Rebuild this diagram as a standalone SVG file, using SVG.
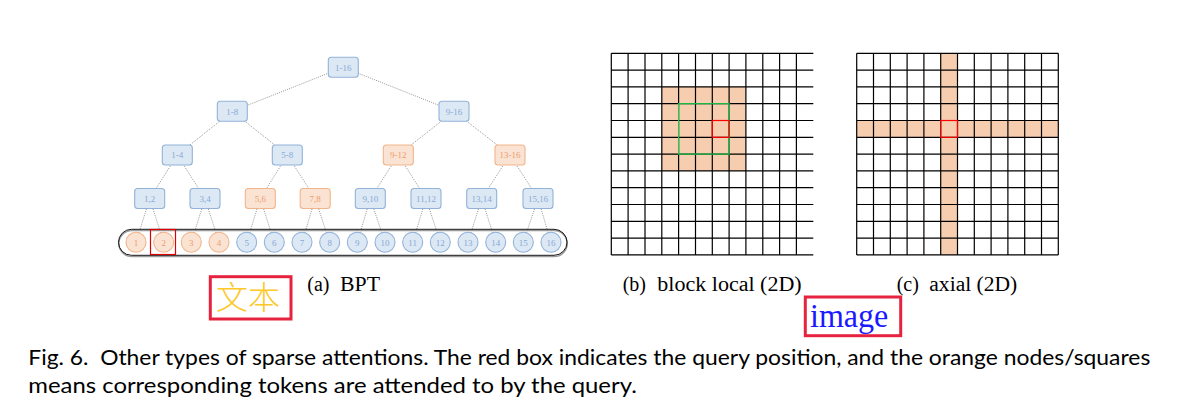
<svg xmlns="http://www.w3.org/2000/svg" width="1183" height="408" viewBox="0 0 1183 408">
<style>
.bn rect{fill:#dde8f5;stroke:#92b2d8;stroke-width:1.1}
.on rect{fill:#fbe3d3;stroke:#f1b58b;stroke-width:1.1}
.bn circle{fill:#dde8f5;stroke:#92b2d8;stroke-width:1.1}
.on circle{fill:#fbe3d3;stroke:#f1b58b;stroke-width:1.1}
.bn text{fill:#86aad4}
.on text{fill:#ec9c6c}
.t{font-family:"Liberation Serif",serif;font-size:9px;text-anchor:middle}
.edge{stroke:#777;stroke-width:0.8;stroke-dasharray:1 1.2;fill:none}
.grid{stroke:#000;stroke-width:1.2;fill:none}
.fill{fill:#f7cdaf}
.cap{font-family:"Liberation Serif",serif;font-size:20px;fill:#000}
.fig{font-family:Lato,"Noto Sans",sans-serif;font-size:22px;fill:#000}
</style>
<rect width="1183" height="408" fill="#fff"/>

<g id="connectors">
<line class="edge" x1="343.3" y1="67.3" x2="232.3" y2="111.3"/>
<line class="edge" x1="343.3" y1="67.3" x2="454" y2="111.3"/>
<line class="edge" x1="232.3" y1="111.3" x2="177.3" y2="155"/>
<line class="edge" x1="232.3" y1="111.3" x2="287.3" y2="155"/>
<line class="edge" x1="454" y1="111.3" x2="398.3" y2="155"/>
<line class="edge" x1="454" y1="111.3" x2="510" y2="155"/>
<line class="edge" x1="177.3" y1="155" x2="149.7" y2="198.5"/>
<line class="edge" x1="177.3" y1="155" x2="205" y2="198.5"/>
<line class="edge" x1="287.3" y1="155" x2="260.3" y2="198.5"/>
<line class="edge" x1="287.3" y1="155" x2="315.2" y2="198.5"/>
<line class="edge" x1="398.3" y1="155" x2="370.3" y2="198.5"/>
<line class="edge" x1="398.3" y1="155" x2="426" y2="198.5"/>
<line class="edge" x1="510" y1="155" x2="481.7" y2="198.5"/>
<line class="edge" x1="510" y1="155" x2="538" y2="198.5"/>
<line class="edge" x1="149.7" y1="198.5" x2="136" y2="242.3"/>
<line class="edge" x1="149.7" y1="198.5" x2="163.7" y2="242.3"/>
<line class="edge" x1="205" y1="198.5" x2="191.3" y2="242.3"/>
<line class="edge" x1="205" y1="198.5" x2="219" y2="242.3"/>
<line class="edge" x1="260.3" y1="198.5" x2="246.7" y2="242.3"/>
<line class="edge" x1="260.3" y1="198.5" x2="274.3" y2="242.3"/>
<line class="edge" x1="315.2" y1="198.5" x2="302" y2="242.3"/>
<line class="edge" x1="315.2" y1="198.5" x2="329.7" y2="242.3"/>
<line class="edge" x1="370.3" y1="198.5" x2="357.3" y2="242.3"/>
<line class="edge" x1="370.3" y1="198.5" x2="385" y2="242.3"/>
<line class="edge" x1="426" y1="198.5" x2="412.7" y2="242.3"/>
<line class="edge" x1="426" y1="198.5" x2="440.3" y2="242.3"/>
<line class="edge" x1="481.7" y1="198.5" x2="468" y2="242.3"/>
<line class="edge" x1="481.7" y1="198.5" x2="495.7" y2="242.3"/>
<line class="edge" x1="538" y1="198.5" x2="523.3" y2="242.3"/>
<line class="edge" x1="538" y1="198.5" x2="551" y2="242.3"/>
</g>

<g id="container">
<rect x="118.8" y="230.6" width="448.5" height="26" rx="13" fill="none" stroke="#9a9a9a" stroke-width="1.4"/>
<rect x="118.5" y="229.3" width="448.5" height="26" rx="13" fill="none" stroke="#111" stroke-width="1"/>
</g>

<g id="n-1-16" class="bn"><rect x="328.3" y="57.3" width="30" height="20" rx="3"/><text class="t" x="343.3" y="70.5">1-16</text></g>
<g id="n-1-8" class="bn"><rect x="217.3" y="101.3" width="30" height="20" rx="3"/><text class="t" x="232.3" y="114.5">1-8</text></g>
<g id="n-9-16" class="bn"><rect x="439" y="101.3" width="30" height="20" rx="3"/><text class="t" x="454" y="114.5">9-16</text></g>
<g id="n-1-4" class="bn"><rect x="162.3" y="145" width="30" height="20" rx="3"/><text class="t" x="177.3" y="158.2">1-4</text></g>
<g id="n-5-8" class="bn"><rect x="272.3" y="145" width="30" height="20" rx="3"/><text class="t" x="287.3" y="158.2">5-8</text></g>
<g id="n-9-12" class="on"><rect x="383.3" y="145" width="30" height="20" rx="3"/><text class="t" x="398.3" y="158.2">9-12</text></g>
<g id="n-13-16" class="on"><rect x="495" y="145" width="30" height="20" rx="3"/><text class="t" x="510" y="158.2">13-16</text></g>
<g id="n-1-2" class="bn"><rect x="134.7" y="188.5" width="30" height="20" rx="3"/><text class="t" x="149.7" y="201.7">1,2</text></g>
<g id="n-3-4" class="bn"><rect x="190" y="188.5" width="30" height="20" rx="3"/><text class="t" x="205" y="201.7">3,4</text></g>
<g id="n-5-6" class="on"><rect x="245.3" y="188.5" width="30" height="20" rx="3"/><text class="t" x="260.3" y="201.7">5,6</text></g>
<g id="n-7-8" class="on"><rect x="300.2" y="188.5" width="30" height="20" rx="3"/><text class="t" x="315.2" y="201.7">7,8</text></g>
<g id="n-9-10" class="bn"><rect x="355.3" y="188.5" width="30" height="20" rx="3"/><text class="t" x="370.3" y="201.7">9,10</text></g>
<g id="n-11-12" class="bn"><rect x="411" y="188.5" width="30" height="20" rx="3"/><text class="t" x="426" y="201.7">11,12</text></g>
<g id="n-13-14" class="bn"><rect x="466.7" y="188.5" width="30" height="20" rx="3"/><text class="t" x="481.7" y="201.7">13,14</text></g>
<g id="n-15-16" class="bn"><rect x="523" y="188.5" width="30" height="20" rx="3"/><text class="t" x="538" y="201.7">15,16</text></g>

<g id="leaf-1" class="on"><circle cx="136" cy="242.3" r="10"/><text class="t" x="136" y="245.5">1</text></g>
<g id="leaf-2" class="on"><circle cx="163.7" cy="242.3" r="10"/><text class="t" x="163.7" y="245.5">2</text></g>
<g id="leaf-3" class="on"><circle cx="191.3" cy="242.3" r="10"/><text class="t" x="191.3" y="245.5">3</text></g>
<g id="leaf-4" class="on"><circle cx="219" cy="242.3" r="10"/><text class="t" x="219" y="245.5">4</text></g>
<g id="leaf-5" class="bn"><circle cx="246.7" cy="242.3" r="10"/><text class="t" x="246.7" y="245.5">5</text></g>
<g id="leaf-6" class="bn"><circle cx="274.3" cy="242.3" r="10"/><text class="t" x="274.3" y="245.5">6</text></g>
<g id="leaf-7" class="bn"><circle cx="302" cy="242.3" r="10"/><text class="t" x="302" y="245.5">7</text></g>
<g id="leaf-8" class="bn"><circle cx="329.7" cy="242.3" r="10"/><text class="t" x="329.7" y="245.5">8</text></g>
<g id="leaf-9" class="bn"><circle cx="357.3" cy="242.3" r="10"/><text class="t" x="357.3" y="245.5">9</text></g>
<g id="leaf-10" class="bn"><circle cx="385" cy="242.3" r="10"/><text class="t" x="385" y="245.5">10</text></g>
<g id="leaf-11" class="bn"><circle cx="412.7" cy="242.3" r="10"/><text class="t" x="412.7" y="245.5">11</text></g>
<g id="leaf-12" class="bn"><circle cx="440.3" cy="242.3" r="10"/><text class="t" x="440.3" y="245.5">12</text></g>
<g id="leaf-13" class="bn"><circle cx="468" cy="242.3" r="10"/><text class="t" x="468" y="245.5">13</text></g>
<g id="leaf-14" class="bn"><circle cx="495.7" cy="242.3" r="10"/><text class="t" x="495.7" y="245.5">14</text></g>
<g id="leaf-15" class="bn"><circle cx="523.3" cy="242.3" r="10"/><text class="t" x="523.3" y="245.5">15</text></g>
<g id="leaf-16" class="bn"><circle cx="551" cy="242.3" r="10"/><text class="t" x="551" y="245.5">16</text></g>

<g id="query-box"><rect x="150.5" y="229.5" width="25" height="25" fill="none" stroke="#e00000" stroke-width="1.2"/></g>

<g id="grid-block-local">
<rect class="fill" x="661.8" y="86.9" width="84.1" height="84"/>
<path class="grid" d="M611.3 53.3V254.9M628.1 53.3V254.9M645 53.3V254.9M661.8 53.3V254.9M678.6 53.3V254.9M695.5 53.3V254.9M712.3 53.3V254.9M729.1 53.3V254.9M745.9 53.3V254.9M762.8 53.3V254.9M779.6 53.3V254.9M796.4 53.3V254.9M611.3 53.3H813.3M611.3 70.1H813.3M611.3 86.9H813.3M611.3 103.7H813.3M611.3 120.5H813.3M611.3 137.3H813.3M611.3 154.1H813.3M611.3 170.9H813.3M611.3 187.7H813.3M611.3 204.5H813.3M611.3 221.3H813.3M611.3 238.1H813.3M611.3 254.9H813.3"/>
<rect x="678.6" y="103.7" width="50.5" height="50.4" fill="none" stroke="#1ecb4f" stroke-width="1.2"/>
<rect x="712.3" y="120.5" width="16.8" height="16.8" fill="none" stroke="#ff0000" stroke-width="1.2"/>
</g>

<g id="grid-axial">
<rect class="fill" x="940.7" y="53.3" width="16.8" height="201.6"/>
<rect class="fill" x="856.7" y="120.5" width="201.6" height="16.8"/>
<path class="grid" d="M856.7 53.3V254.9M873.5 53.3V254.9M890.3 53.3V254.9M907.1 53.3V254.9M923.9 53.3V254.9M940.7 53.3V254.9M957.5 53.3V254.9M974.3 53.3V254.9M991.1 53.3V254.9M1007.9 53.3V254.9M1024.7 53.3V254.9M1041.5 53.3V254.9M1058.3 53.3V254.9M856.7 53.3H1058.3M856.7 70.1H1058.3M856.7 86.9H1058.3M856.7 103.7H1058.3M856.7 120.5H1058.3M856.7 137.3H1058.3M856.7 154.1H1058.3M856.7 170.9H1058.3M856.7 187.7H1058.3M856.7 204.5H1058.3M856.7 221.3H1058.3M856.7 238.1H1058.3M856.7 254.9H1058.3"/>
<rect x="940.7" y="120.5" width="16.8" height="16.8" fill="none" stroke="#ff0000" stroke-width="1.2"/>
</g>

<g id="captions">
<text class="cap" x="307.3" y="291">(a)</text>
<text class="cap" x="340" y="291" textLength="40" lengthAdjust="spacingAndGlyphs">BPT</text>
<text class="cap" x="622.7" y="291">(b)</text>
<text class="cap" x="657.3" y="291" textLength="144.4" lengthAdjust="spacingAndGlyphs">block local (2D)</text>
<text class="cap" x="896.7" y="291">(c)</text>
<text class="cap" x="929.3" y="291" textLength="88" lengthAdjust="spacingAndGlyphs">axial (2D)</text>
</g>

<g id="label-text">
<rect x="210.3" y="276.7" width="80.7" height="42.3" fill="none" stroke="#e6223f" stroke-width="3"/>
<text x="216" y="309" font-family="'Noto Sans CJK SC',sans-serif" font-size="32" fill="#fdc828" font-weight="300">文本</text>
</g>

<g id="label-image">
<rect x="805.3" y="297" width="95.4" height="38.7" fill="none" stroke="#e6223f" stroke-width="3"/>
<text x="810" y="326.5" font-family="'Liberation Serif',serif" font-size="33" fill="#1a1aff" textLength="78.3" lengthAdjust="spacingAndGlyphs">image</text>
</g>

<g id="figure-caption">
<text class="fig" x="28.3" y="365" textLength="1122" lengthAdjust="spacingAndGlyphs" xml:space="preserve">Fig. 6.  Other types of sparse attentions. The red box indicates the query position, and the orange nodes/squares</text>
<text class="fig" x="28.3" y="393" textLength="608.5" lengthAdjust="spacingAndGlyphs">means corresponding tokens are attended to by the query.</text>
</g>
</svg>
